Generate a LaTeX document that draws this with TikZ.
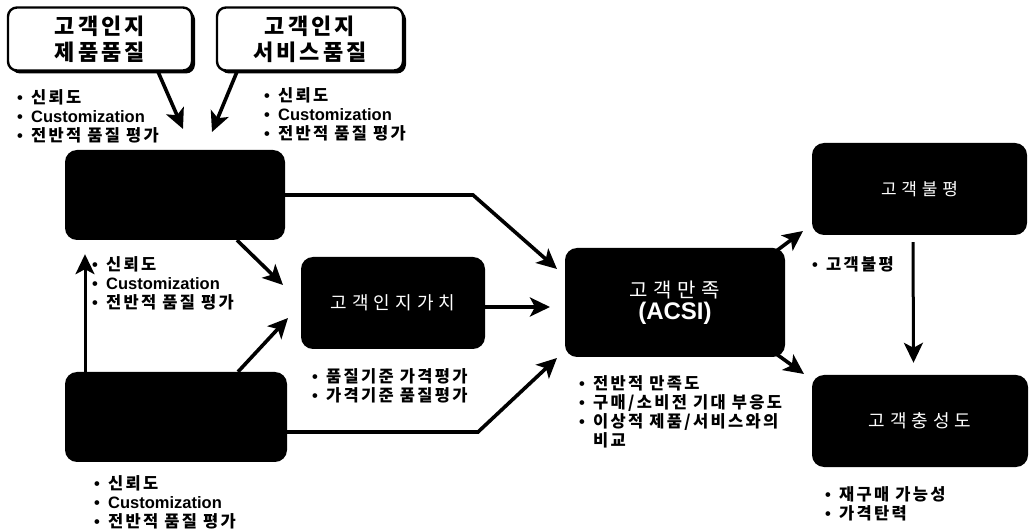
\documentclass[tikz,border=0pt]{standalone}
\usepackage{fontspec}
\setmainfont{Liberation Sans}
\newfontfamily\krl[LetterSpace=14]{Noto Sans CJK KR}
\newfontfamily\krt[LetterSpace=14]{Noto Sans CJK KR}
\newfontfamily\krw[LetterSpace=28]{Noto Sans CJK KR}
\usetikzlibrary{arrows.meta,shadows}
\newcommand\bl{\makebox[14pt][l]{\bfseries\char"2022}}
\newcommand\K[1]{{\krl\bfseries #1}}
\tikzset{
  titlebox/.style={draw=black, line width=2.4pt, rounded corners=9pt, fill=white,
    minimum width=184pt, minimum height=63pt, align=center, inner sep=0pt,
    font=\krt\bfseries\fontsize{22}{26}\selectfont,
    general shadow={fill=black, shadow xshift=3pt, shadow yshift=-3pt}},
  darkbox/.style={fill=black, rounded corners=12pt, text=white, inner sep=0pt, align=center},
  arr/.style={line width=3.6pt, -{Stealth[length=20pt,width=19pt,inset=5pt]}},
  list/.style={anchor=north west, inner sep=0pt, align=left,
    font=\bfseries\fontsize{16.5}{19}\selectfont},
}
\begin{document}
\begin{tikzpicture}[x=1pt,y=-1pt]
\fill[white] (0,0) rectangle (1029,529);
\useasboundingbox (0,0) rectangle (1029,529);

% title boxes
\node[titlebox] (t1) at (100,39) {고객인지\\제품품질};
\node[titlebox, minimum width=186pt] (t2) at (310,39) {고객인지\\서비스품질};

% dark boxes
\node[darkbox, minimum width=220pt, minimum height=90pt] (eq) at (175,195) {};
\node[darkbox, minimum width=222pt, minimum height=90pt] (lo) at (176,417) {};
\node[darkbox, minimum width=184pt, minimum height=92pt,
      font=\krw\fontsize{18}{22}\selectfont] (val) at (393,303) {고객인지가치};
\node[darkbox, minimum width=220pt, minimum height=109pt] (acsi) at (675,302.5)
  {{\krw\fontsize{20}{26}\selectfont 고객만족}\\[2pt]{\bfseries\fontsize{24}{26}\selectfont (ACSI)}};
\node[darkbox, minimum width=215pt, minimum height=92pt,
      font=\krw\fontsize{17}{22}\selectfont] (comp) at (919.5,189) {고객불평};
\node[darkbox, minimum width=216pt, minimum height=92pt,
      font=\krw\fontsize{18}{22}\selectfont] (loy) at (920,421) {고객충성도};

% lists
\node[list] (l1) at (17,89) {\bl\K{신뢰도}\\\bl Customization\\\bl\K{전반적 품질 평가}};
\node[list] (l2) at (264,87) {\bl\K{신뢰도}\\\bl Customization\\\bl\K{전반적 품질 평가}};
\node[list] (l3) at (92,256) {\bl\K{신뢰도}\\\bl Customization\\\bl\K{전반적 품질 평가}};
\node[list] (l4) at (94,475) {\bl\K{신뢰도}\\\bl Customization\\\bl\K{전반적 품질 평가}};
\node[list] (l5) at (312,368) {\bl\K{품질기준 가격평가}\\\bl\K{가격기준 품질평가}};
\node[list] (l6) at (579,375) {\bl\K{전반적 만족도}\\\bl\K{구매/소비전 기대 부응도}\\\bl\K{이상적 제품/서비스와의}\\\hspace*{14pt}\K{비교}};
\node[list] (l7) at (812,256) {\bl\K{고객불평}};
\node[list] (l8) at (825,486) {\bl\K{재구매 가능성}\\\bl\K{가격탄력}};

% free arrow ends and bends
\coordinate (a1) at (183,129);
\coordinate (a2) at (212,132);
\coordinate (v1) at (283,285);
\coordinate (v2) at (288,318);
\coordinate (b1) at (473,195);
\coordinate (c1) at (557,269);
\coordinate (c2) at (550,307);
\coordinate (b2) at (478,432);
\coordinate (c3) at (557,358);
\coordinate (d1) at (803,231);
\coordinate (d2) at (804,374);

% connectors
\draw[arr] ([xshift=58pt]t1.south) -- (a1);
\draw[arr] ([xshift=-73pt]t2.south) -- (a2);
\draw[arr, line width=3pt] ([xshift=-91pt]lo.north) -- ([xshift=-90pt,yshift=-14pt]eq.south);
\draw[arr] ([xshift=62pt]eq.south) -- (v1);
\draw[arr] ([xshift=62pt]lo.north) -- (v2);
\draw[arr] (eq.east) -- (b1) -- (c1);
\draw[arr] ([yshift=-4pt]val.east) -- (c2);
\draw[arr] ([yshift=-15pt]lo.east) -- (b2) -- (c3);
\draw[arr] ([xshift=-10pt,yshift=-4pt]acsi.north east) -- (d1);
\draw[arr] ([xshift=-10pt,yshift=4pt]acsi.south east) -- (d2);
\draw[arr, line width=3pt, shorten <=7pt] ([xshift=-6.5pt]comp.south) -- ([xshift=-6.5pt,yshift=12pt]loy.north);
\end{tikzpicture}
\end{document}
